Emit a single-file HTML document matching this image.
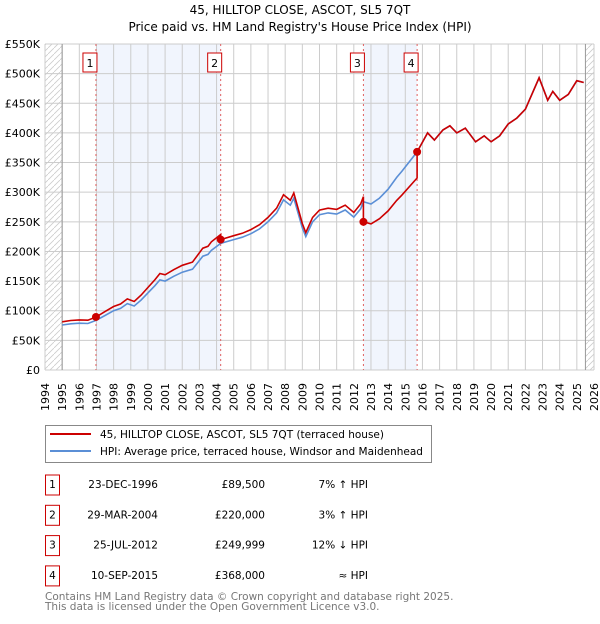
<!DOCTYPE html>
<html><head><meta charset="utf-8"><style>
body{margin:0;background:#fff;font-family:"DejaVu Sans","Liberation Sans",sans-serif;}
svg text{font-family:"DejaVu Sans","Liberation Sans",sans-serif;}
</style></head><body>
<svg width="600" height="620" viewBox="0 0 600 620" xmlns="http://www.w3.org/2000/svg">
<defs><pattern id="hatch" width="6" height="6" patternUnits="userSpaceOnUse"><path d="M0,6 L6,0" stroke="#ccc" stroke-width="0.8"/></pattern></defs>
<text x="300" y="14" text-anchor="middle" font-size="12">45, HILLTOP CLOSE, ASCOT, SL5 7QT</text>
<text x="300" y="31" text-anchor="middle" font-size="12">Price paid vs. HM Land Registry's House Price Index (HPI)</text>
<g id="plot"></g>
<g>
<rect x="45.5" y="425.5" width="386" height="37" fill="#fff" stroke="#888"/>
<line x1="50" y1="434" x2="91" y2="434" stroke="#cc0000" stroke-width="2"/>
<text x="100" y="438" font-size="10.5">45, HILLTOP CLOSE, ASCOT, SL5 7QT (terraced house)</text>
<line x1="50" y1="451" x2="91" y2="451" stroke="#5b8fd6" stroke-width="2"/>
<text x="100" y="455" font-size="10.5">HPI: Average price, terraced house, Windsor and Maidenhead</text>
</g>
<g id="table" font-size="10.5"></g>
<text x="45" y="600" font-size="10.5" fill="#777">Contains HM Land Registry data © Crown copyright and database right 2025.</text>
<text x="45" y="610" font-size="10.5" fill="#777">This data is licensed under the Open Government Licence v3.0.</text>
</svg>
<script>
const hpiYears=[1995,1995.5,1996,1996.5,1996.97,1997.5,1998,1998.4,1998.8,1999.2,1999.6,2000,2000.4,2000.7,2001,2001.5,2002,2002.6,2003.2,2003.5,2003.7,2004.24,2005,2005.5,2006,2006.5,2007,2007.5,2007.9,2008.3,2008.5,2009,2009.2,2009.6,2010,2010.5,2011,2011.5,2012,2012.4,2012.56,2013,2013.5,2014,2014.5,2014.8,2015.69,2016.3,2016.7,2017.2,2017.6,2018,2018.5,2019.1,2019.6,2020,2020.5,2021,2021.5,2022,2022.8,2023.3,2023.6,2024,2024.5,2025,2025.4];
const hpiValues=[76000,78000,79000,78500,83600,92000,100000,104000,112000,108000,118000,130000,142000,152000,150000,158000,165000,170000,192000,195000,202000,213600,220000,224000,230000,238000,250000,265000,287000,278000,290000,240000,225000,250000,262000,265000,263000,270000,258000,272000,284000,280000,290000,305000,325000,335000,368000,400000,388000,405000,412000,400000,408000,385000,395000,385000,395000,415000,425000,440000,493000,455000,470000,455000,465000,488000,485000];
const saleYears=[1996.97,2004.24,2012.56,2015.69];
const salePrices=[89500,220000,249999,368000];
const saleLabels=["1","2","3","4"];
const saleDates=["23-DEC-1996","29-MAR-2004","25-JUL-2012","10-SEP-2015"];
const salePriceText=["£89,500","£220,000","£249,999","£368,000"];
const saleHpiText=["7% ↑ HPI","3% ↑ HPI","12% ↓ HPI","≈ HPI"];
const yTicks=[0,50000,100000,150000,200000,250000,300000,350000,400000,450000,500000,550000];
const yTickLabels=["£0","£50K","£100K","£150K","£200K","£250K","£300K","£350K","£400K","£450K","£500K","£550K"];

const X0=45,X1=594,Y0=370,Y1=44;
const sx=y=>X0+(y-1994)/(2026-1994)*(X1-X0);
const sy=v=>Y0-v/550000*(Y0-Y1);
const NS="http://www.w3.org/2000/svg";
function mk(tag,attrs,parent,txt){const e=document.createElementNS(NS,tag);for(const k in attrs)e.setAttribute(k,attrs[k]);if(txt!==undefined)e.textContent=txt;parent.appendChild(e);return e;}
function hpiAt(t){for(let i=0;i<hpiYears.length-1;i++){if(t>=hpiYears[i]&&t<=hpiYears[i+1]){const f=(t-hpiYears[i])/(hpiYears[i+1]-hpiYears[i]);return hpiValues[i]+f*(hpiValues[i+1]-hpiValues[i]);}}return hpiValues[hpiValues.length-1];}
const plot=document.getElementById('plot');
for(const [a,b] of [[0,1],[2,3]]){const r=mk('rect',{x:sx(saleYears[a]),y:Y1,width:sx(saleYears[b])-sx(saleYears[a]),height:Y0-Y1,fill:'#f1f5fd'},plot);

}
let h1=mk('rect',{x:X0,y:Y1,width:sx(1995)-X0,height:Y0-Y1,fill:'url(#hatch)'},plot);


let h2=mk('rect',{x:sx(2025.5),y:Y1,width:X1-sx(2025.5),height:Y0-Y1,fill:'url(#hatch)'},plot);


for(let y=1994;y<=2026;y++){const l=mk('line',{x1:sx(y),x2:sx(y),y1:Y1,y2:Y0,stroke:'#ccc','stroke-width':1},plot);


const t=mk('text',{x:0,y:0,transform:`translate(${sx(y)+4},383) rotate(-90)`,'text-anchor':'end','font-size':11},plot,String(y));

}
yTicks.forEach((v,i)=>{const l=mk('line',{x1:X0,x2:X1,y1:sy(v),y2:sy(v),stroke:'#ccc','stroke-width':1},plot);


const t=mk('text',{x:40,y:sy(v)+4,'text-anchor':'end','font-size':11},plot,yTickLabels[i]);

});
let b1=mk('line',{x1:sx(1995),x2:sx(1995),y1:Y1,y2:Y0,stroke:'#999'},plot);


let b2=mk('line',{x1:sx(2025.5),x2:sx(2025.5),y1:Y1,y2:Y0,stroke:'#999'},plot);


saleYears.forEach((t,i)=>{const l=mk('line',{x1:sx(t),x2:sx(t),y1:Y1,y2:Y0,stroke:'#e06060','stroke-dasharray':'2,3','stroke-width':1},plot);


const g=mk('g',{},plot);


mk('rect',{x:sx(t)-13,y:53,width:14,height:19,fill:'#fff',stroke:'#cc0000'},g);
mk('text',{x:sx(t)-6,y:67,'text-anchor':'middle','font-size':11},g,saleLabels[i]);});
const hp=hpiYears.map((t,i)=>`${i?'L':'M'}${sx(t).toFixed(1)},${sy(hpiValues[i]).toFixed(1)}`).join('');
let hl=mk('path',{d:hp,fill:'none',stroke:'#5b8fd6','stroke-width':1.6},plot);


const ratios=saleYears.map((t,i)=>salePrices[i]/hpiAt(t));
function ratioAt(t){let r=ratios[0];for(let i=0;i<saleYears.length;i++)if(t>=saleYears[i])r=ratios[i];return r;}
let pts=[];
hpiYears.forEach((t,i)=>{const si=saleYears.indexOf(t);if(si>0){pts.push([t,hpiValues[i]*ratios[si-1]]);}pts.push([t,hpiValues[i]*ratioAt(t)]);});
const pp=pts.map((p,i)=>`${i?'L':'M'}${sx(p[0]).toFixed(1)},${sy(p[1]).toFixed(1)}`).join('');
let pl=mk('path',{d:pp,fill:'none',stroke:'#cc0000','stroke-width':1.6},plot);


saleYears.forEach((t,i)=>{const c=mk('circle',{cx:sx(t),cy:sy(salePrices[i]),r:4,fill:'#cc0000'},plot);

});
const tb=document.getElementById('table');
saleYears.forEach((t,i)=>{const y=484+i*30.3;
const g=mk('g',{},tb);


mk('rect',{x:45.5,y:y-9,width:14,height:20,fill:'#fff',stroke:'#cc0000'},g);
mk('text',{x:52.5,y:y+4,'text-anchor':'middle'},g,saleLabels[i]);
mk('text',{x:158,y:y+4,'text-anchor':'end'},g,saleDates[i]);
mk('text',{x:265,y:y+4,'text-anchor':'end'},g,salePriceText[i]);
mk('text',{x:368,y:y+4,'text-anchor':'end'},g,saleHpiText[i]);});
</script>
</body></html>
